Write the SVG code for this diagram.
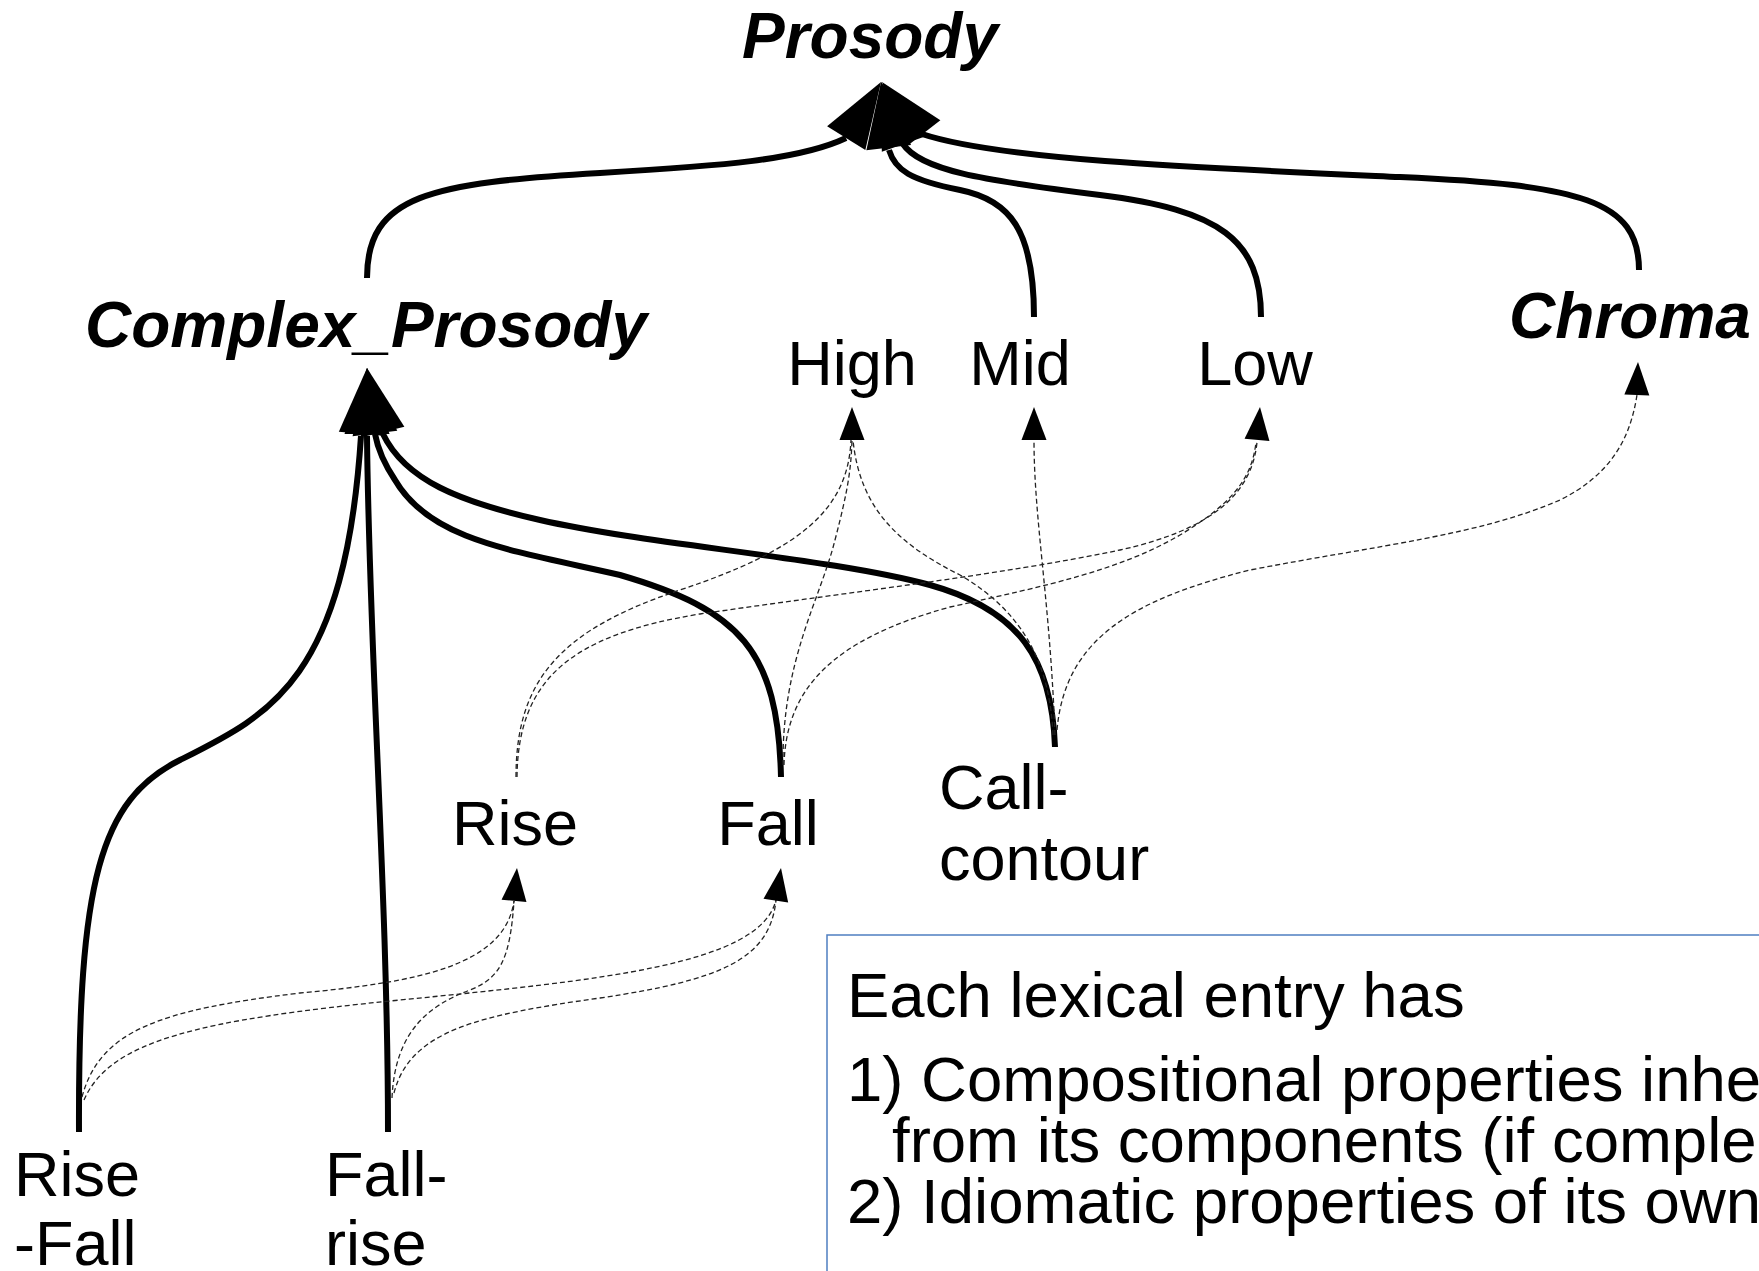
<svg xmlns="http://www.w3.org/2000/svg" width="1759" height="1271" viewBox="0 0 1759 1271">
  <style>
    .lbl { font-family: "Liberation Sans", Arial, sans-serif; font-size: 63px; fill: #000; }
    .bi { font-weight: bold; font-style: italic; font-size: 64px; }
    .note { font-family: "Liberation Sans", Arial, sans-serif; font-size: 63.5px; fill: #000; }
    .thick { fill: none; stroke: #000; stroke-width: 6; stroke-linecap: butt; }
    .dash { fill: none; stroke: #222; stroke-width: 1.3; stroke-dasharray: 5 3; }
    .head { fill: #000; stroke: none; }
  </style>
  <defs>
    <!-- arrowheads point along +x with the tip at the origin -->
    <path id="bigHead" d="M0,0 L-66,-22.5 L-66,22.5 Z"/>
    <path id="smallHead" d="M0,0 L-33,-12.5 L-33,12.5 Z"/>
  </defs>
  <rect width="1759" height="1271" fill="#fff"/>

  <!-- connectors -->
  <g id="connectors">
    <!-- is-a links (thick) -->
    <path id="e-complex-prosody" class="thick" d="M367,278 C367,195 430,183 600,173 C720,166 800,160 846,138"/>
    <path id="e-mid-prosody" class="thick" d="M1034,317 C1034,230 1010,200 960,190 C910,180 895,170 889,150"/>
    <path id="e-low-prosody" class="thick" d="M1261,317 C1261,240 1220,210 1100,195 C980,180 920,170 903,144"/>
    <path id="e-chroma-prosody" class="thick" d="M1639,270 C1639,200 1580,185 1400,177 C1200,168 1000,160 922,134"/>
    <path id="e-risefall-complex" class="thick" d="M79,1132 C78,880 100,800 180,760 C270,715 345,680 361,436"/>
    <path id="e-fallrise-complex" class="thick" d="M388,1132 C388,900 369,650 367,436"/>
    <path id="e-fall-complex" class="thick" d="M781,777 C778,650 740,610 620,575 C510,550 430,540 395,480 C385,465 378,450 375,434"/>
    <path id="e-call-complex" class="thick" d="M1055,747 C1052,660 1020,610 930,585 C830,558 650,545 540,520 C460,502 405,480 383,434"/>

    <g class="head">
      <use href="#bigHead" transform="translate(881,82) rotate(-58.2)"/>
      <use href="#bigHead" transform="translate(881,82) rotate(-96.7)"/>
      <use href="#bigHead" transform="translate(881,82) rotate(-109.5)"/>
      <use href="#bigHead" transform="translate(882,82) rotate(-128)"/>
      <use href="#bigHead" transform="translate(367,368) rotate(-85)"/>
      <use href="#bigHead" transform="translate(367,368) rotate(-90)"/>
      <use href="#bigHead" transform="translate(367,368) rotate(-96.9)"/>
      <use href="#bigHead" transform="translate(367,368) rotate(-103.6)"/>
    </g>

    <!-- component links (dashed) -->
    <path id="e-rise-high" class="dash" d="M516,777 C516,680 560,630 680,590 C800,550 848,510 851,440"/>
    <path id="e-rise-low" class="dash" d="M517,777 C518,680 570,635 700,614 C850,592 1000,575 1120,550 C1210,530 1252,495 1257,442"/>
    <path id="e-fall-high" class="dash" d="M783,765 C782,660 820,600 835,540 C848,490 851,470 852,440"/>
    <path id="e-fall-low" class="dash" d="M784,765 C786,690 830,640 950,607 C1050,585 1120,570 1180,535 C1230,505 1252,480 1256,442"/>
    <path id="e-call-high" class="dash" d="M1053,735 C1050,660 1020,610 960,575 C900,545 860,510 853,440"/>
    <path id="e-call-mid" class="dash" d="M1055,735 C1050,600 1034,520 1034,440"/>
    <path id="e-call-chroma" class="dash" d="M1057,730 C1065,640 1130,600 1250,570 C1380,545 1480,535 1560,500 C1610,475 1630,440 1637,395"/>
    <path id="e-risefall-rise" class="dash" d="M82,1097 C100,1030 160,1010 300,993 C420,982 505,965 514,901"/>
    <path id="e-risefall-fall" class="dash" d="M84,1100 C110,1040 200,1020 400,1000 C600,980 760,965 776,900"/>
    <path id="e-fallrise-rise" class="dash" d="M392,1098 C395,1030 430,1005 470,990 C500,978 510,960 514,901"/>
    <path id="e-fallrise-fall" class="dash" d="M394,1093 C410,1030 480,1015 600,998 C720,980 770,960 776,900"/>

    <g class="head">
      <use href="#smallHead" transform="translate(852,407) rotate(-90)"/>
      <use href="#smallHead" transform="translate(1034,407) rotate(-90)"/>
      <use href="#smallHead" transform="translate(1260,407) rotate(-84.8)"/>
      <use href="#smallHead" transform="translate(1638,362) rotate(-88)"/>
      <use href="#smallHead" transform="translate(517,868) rotate(-84.8)"/>
      <use href="#smallHead" transform="translate(781,868) rotate(-81)"/>
    </g>
  </g>

  <!-- nodes -->
  <g id="n-prosody"><text class="lbl bi" x="870" y="58" text-anchor="middle">Prosody</text></g>
  <g id="n-complex"><text class="lbl bi" x="366" y="347" text-anchor="middle">Complex_Prosody</text></g>
  <g id="n-chroma"><text class="lbl bi" x="1630" y="338" text-anchor="middle">Chroma</text></g>
  <g id="n-high"><text class="lbl" x="852" y="385" text-anchor="middle">High</text></g>
  <g id="n-mid"><text class="lbl" x="1020" y="385" text-anchor="middle">Mid</text></g>
  <g id="n-low"><text class="lbl" x="1255" y="385" text-anchor="middle">Low</text></g>
  <g id="n-rise"><text class="lbl" x="515" y="845" text-anchor="middle">Rise</text></g>
  <g id="n-fall"><text class="lbl" x="768" y="845" text-anchor="middle">Fall</text></g>
  <g id="n-call"><text class="lbl" x="939" y="809">Call-</text><text class="lbl" x="939" y="880">contour</text></g>
  <g id="n-risefall"><text class="lbl" x="14" y="1196">Rise</text><text class="lbl" x="14" y="1265">-Fall</text></g>
  <g id="n-fallrise"><text class="lbl" x="325" y="1196">Fall-</text><text class="lbl" x="325" y="1265">rise</text></g>

  <!-- explanatory note -->
  <g id="note">
    <rect x="827" y="935" width="1000" height="400" fill="#fff" stroke="#4f7fc1" stroke-width="1.5"/>
    <text class="note" x="847" y="1017">Each lexical entry has</text>
    <text class="note" x="847" y="1101">1) Compositional properties inhe</text>
    <text class="note" x="892" y="1162">from its components (if comple</text>
    <text class="note" x="847" y="1223">2) Idiomatic properties of its own</text>
  </g>
</svg>
